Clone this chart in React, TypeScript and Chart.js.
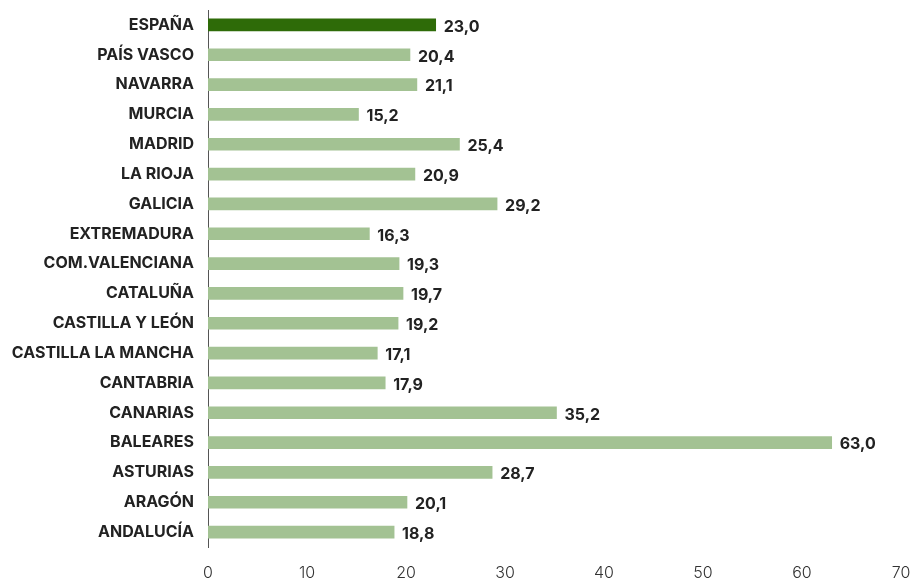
import React, { useEffect, useRef } from "react";
import { Chart, registerables } from "chart.js";

Chart.register(...registerables);

const categories = [
  "ESPAÑA", "PAÍS VASCO", "NAVARRA", "MURCIA", "MADRID", "LA RIOJA", "GALICIA",
  "EXTREMADURA", "COM.VALENCIANA", "CATALUÑA", "CASTILLA Y LEÓN", "CASTILLA LA MANCHA",
  "CANTABRIA", "CANARIAS", "BALEARES", "ASTURIAS", "ARAGÓN", "ANDALUCÍA",
];
const values = [23.0, 20.4, 21.1, 15.2, 25.4, 20.9, 29.2, 16.3, 19.3, 19.7, 19.2, 17.1, 17.9, 35.2, 63.0, 28.7, 20.1, 18.8];
const xTicks = [0, 10, 20, 30, 40, 50, 60, 70];

const DARK = "#2e6b08";
const LIGHT = "#a3c293";
const FONT = "Inter, 'Open Sans', sans-serif";

const labelPlugin = {
  id: "valueLabels",
  afterDatasetsDraw(chart: any) {
    const ctx = chart.ctx;
    const meta = chart.getDatasetMeta(0);
    ctx.save();
    ctx.font = `bold 16px ${FONT}`;
    ctx.fillStyle = "#222";
    ctx.textAlign = "left";
    ctx.textBaseline = "middle";
    meta.data.forEach((bar: any, i: number) => {
      const txt = values[i].toFixed(1).replace(".", ",");
      ctx.fillText(txt, bar.x + 8, bar.y + 2);
    });
    ctx.restore();
  },
};

export default function App() {
  const ref = useRef<HTMLCanvasElement>(null);
  useEffect(() => {
    if (!ref.current) return;
    const chart = new Chart(ref.current, {
      type: "bar",
      data: {
        labels: categories,
        datasets: [
          {
            data: values,
            backgroundColor: categories.map((_, i) => (i === 0 ? DARK : LIGHT)),
            barThickness: 12,
          },
        ],
      },
      options: {
        indexAxis: "y",
        animation: false,
        responsive: false,
        maintainAspectRatio: false,
        layout: { padding: { top: 10, right: 9, bottom: 0, left: 0 } },
        plugins: { legend: { display: false }, tooltip: { enabled: false } },
        scales: {
          x: {
            min: 0,
            max: 70,
            afterBuildTicks: (s: any) => {
              s.ticks = xTicks.map((v) => ({ value: v }));
            },
            afterFit: (s: any) => {
              s.height = 36;
              s.paddingLeft = 0;
              s.paddingRight = 0;
            },
            grid: { display: false, drawTicks: false },
            border: { display: false },
            ticks: {
              padding: 17,
              color: "#333",
              font: { family: FONT, size: 16, weight: "300" },
              maxRotation: 0,
            },
          },
          y: {
            afterFit: (s: any) => {
              s.width = 208;
              s.paddingTop = 0;
              s.paddingBottom = 0;
            },
            grid: { display: false, drawTicks: false },
            border: { display: true, color: "#555", width: 1 },
            ticks: {
              padding: 14,
              color: "#222",
              font: { family: FONT, size: 16, weight: "bold" },
              autoSkip: false,
            },
          },
        },
      },
      plugins: [labelPlugin],
    });
    return () => chart.destroy();
  }, []);
  return (
    <div style={{ position: "fixed", left: 0, top: 0, width: 910, height: 583, background: "#fff" }}>
      <canvas ref={ref} width={910} height={583} style={{ width: 910, height: 583 }} />
    </div>
  );
}
